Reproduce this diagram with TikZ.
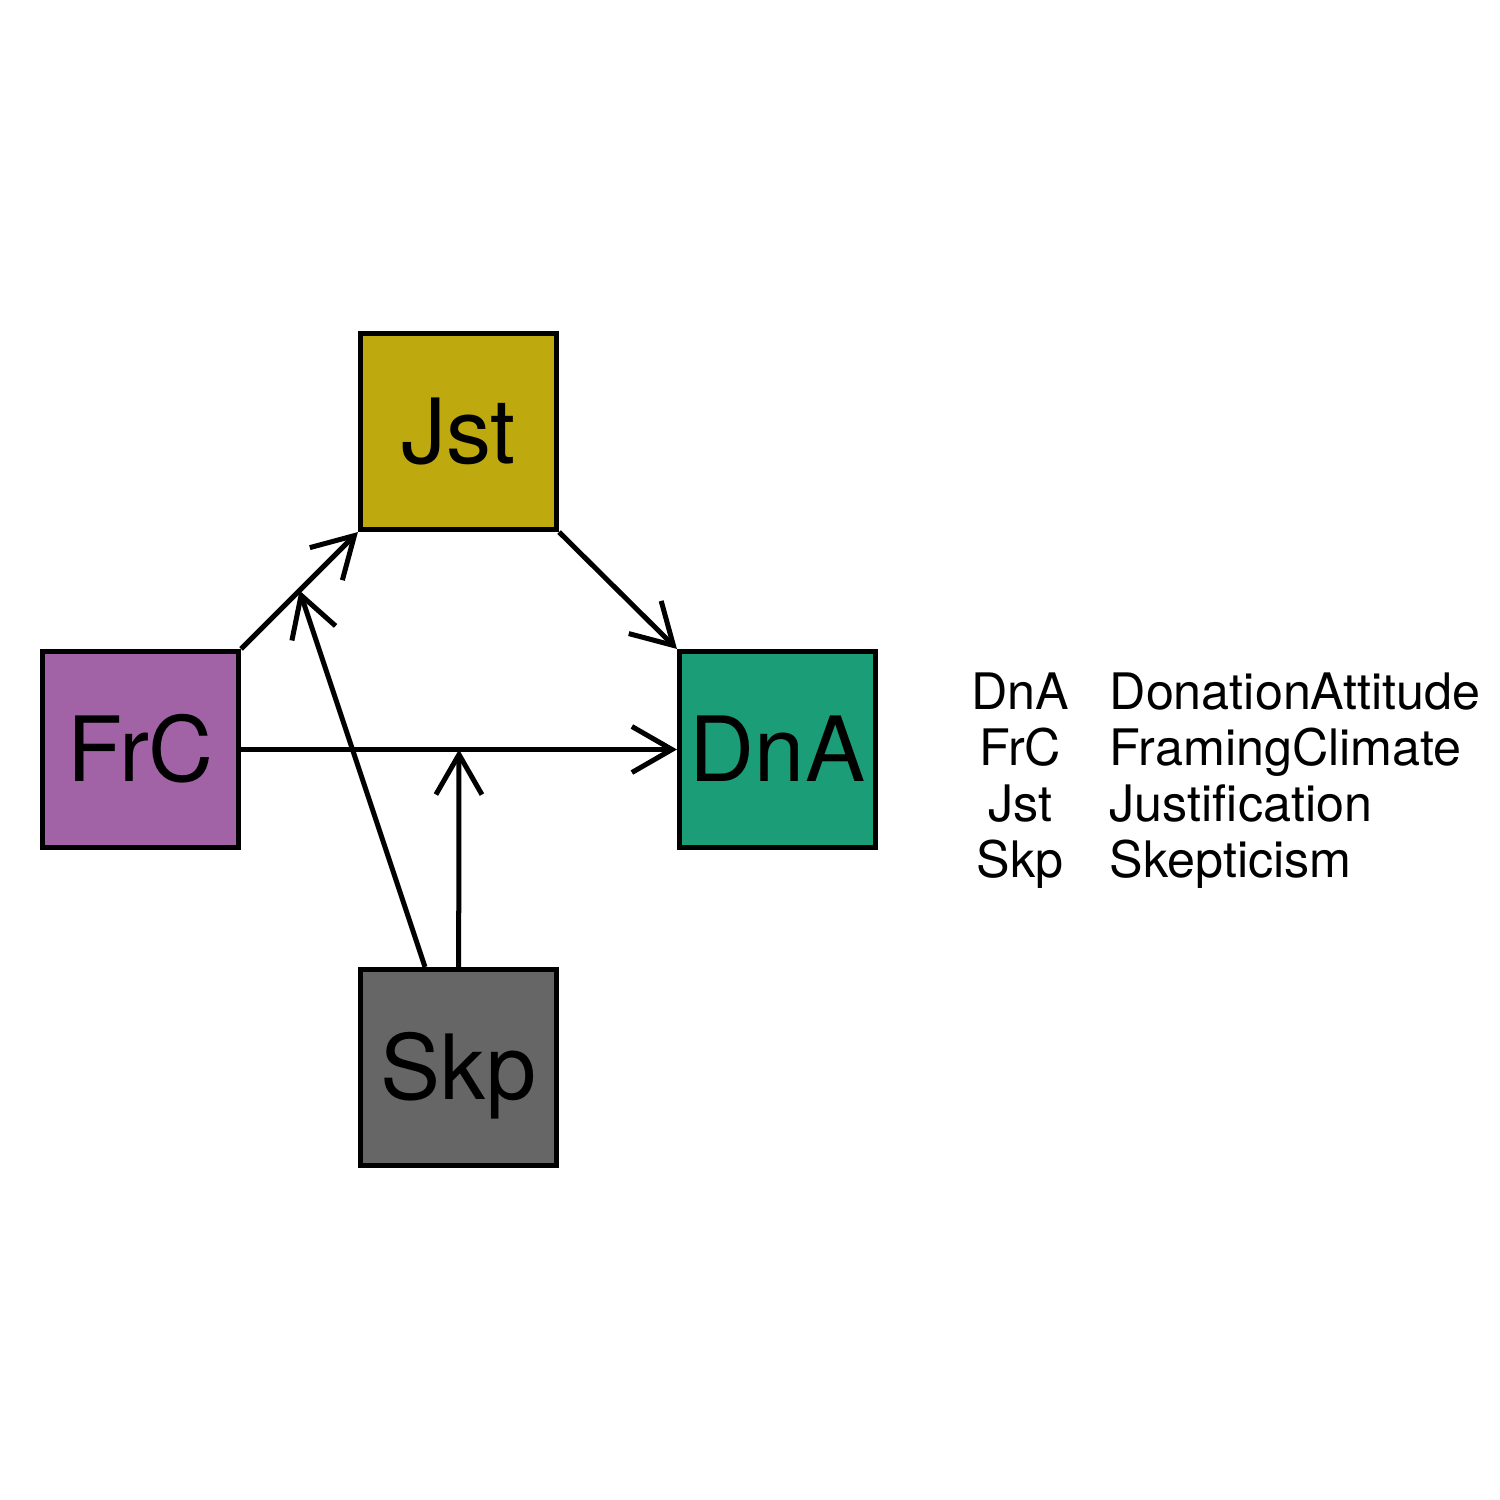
\documentclass[tikz,border=0pt]{standalone}
\usepackage{fontspec}
\setmainfont{TeX Gyre Heros}
\usetikzlibrary{arrows.meta,calc}
\definecolor{cJst}{HTML}{BEA90F}
\definecolor{cFrC}{HTML}{A263A6}
\definecolor{cDnA}{HTML}{1B9E77}
\definecolor{cSkp}{HTML}{666666}
\tikzset{
  varbox/.style={draw=black, line width=0.05cm, minimum width=1.96cm, minimum height=1.96cm,
    inner sep=0pt, font=\fontsize{25.6pt}{28pt}\selectfont, text height=18.4pt, text depth=0pt},
  edge/.style={draw=black, line width=0.05cm, -{Straight Barb[length=0.4cm,width=0.46cm]}},
  legkey/.style={anchor=base, inner sep=0pt, font=\fontsize{14.3pt}{17pt}\selectfont},
  legval/.style={anchor=base west, inner sep=0pt, font=\fontsize{14.3pt}{17pt}\selectfont}
}
\begin{document}
\begin{tikzpicture}[x=0.01cm,y=-0.01cm]
\useasboundingbox (0,0) rectangle (1500,1500);
\node[varbox, fill=cJst] (Jst) at (458.5,431.5) {Jst};
\node[varbox, fill=cFrC] (FrC) at (140.5,749.5) {FrC};
\node[varbox, fill=cDnA] (DnA) at (777.5,749.5) {DnA};
\node[varbox, fill=cSkp] (Skp) at (458.5,1067.5) {Skp};
\coordinate (m1) at ($(FrC.north east)!0.5!(Jst.south west)$);
\coordinate (m2) at ($(FrC.east)!0.5!(DnA.west)$);
\draw[edge] (FrC.north east) -- (Jst.south west);
\draw[edge] (Jst.south east) -- (DnA.north west);
\draw[edge] (FrC.east) -- (DnA.west);
\draw[edge] (Skp) -- (m1);
\draw[edge] (Skp) -- (m2);
\node[legkey] (k1) at (1020,709) {DnA};
\node[legkey] (k2) at (1020,765) {FrC};
\node[legkey] (k3) at (1020,821) {Jst};
\node[legkey] (k4) at (1020,877) {Skp};
\node[legval] (v1) at (1109,709) {DonationAttitude};
\node[legval] (v2) at (1109,765) {FramingClimate};
\node[legval] (v3) at (1109,821) {Justification};
\node[legval] (v4) at (1109,877) {Skepticism};
\end{tikzpicture}
\end{document}
